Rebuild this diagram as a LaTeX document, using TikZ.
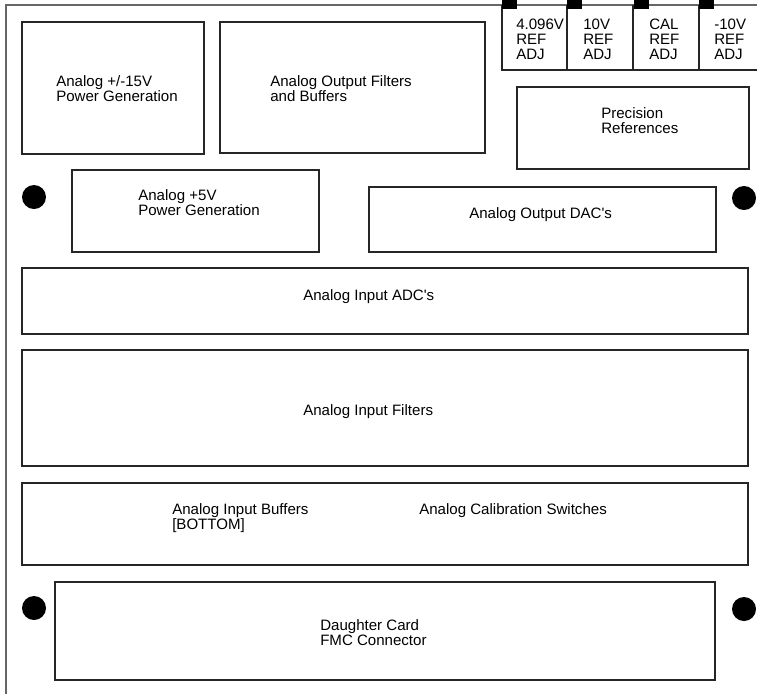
\documentclass[tikz,border=0pt]{standalone}
\usepackage{fontspec}
\setmainfont{Liberation Sans}
\usepackage{tikz}

\begin{document}
\begin{tikzpicture}[x=0.75pt, y=-0.75pt,
		board/.style={draw=black!60, line width=0.8pt},
		box/.style={draw=black!85, line width=1.1pt},
		lbl/.style={anchor=base west, inner sep=0pt, align=left, font=\fontsize{11.3pt}{11pt}\selectfont}]
			\useasboundingbox (0, 0) rectangle (757, 694);
			% board edge
			\draw [board] (6, 694) -- (6, 5) -- (757, 5);
			% reference adjust pots
			\draw [box] (502, 5) -- (502, 70) -- (757, 70);
			\foreach \x in {567, 633, 699} \draw [box] (\x, 5) -- (\x, 70);
			\foreach \x in {502, 567, 634, 699} \fill (\x, 0) rectangle +(15, 9);
			\node [lbl] (adj4) at (516, 59) {4.096V\\REF\\ADJ};
			\node [lbl] (adj10) at (583, 59) {10V\\REF\\ADJ};
			\node [lbl] (adjcal) at (649, 59) {CAL\\REF\\ADJ};
			\node [lbl] (adjm10) at (714, 59) {-10V\\REF\\ADJ};
			% blocks
			\draw [box] (22, 22) rectangle (204, 154);
			\node [lbl] (pwr15) at (56, 101) {Analog +/-15V\\Power Generation};
			\draw [box] (220, 22) rectangle (485, 153);
			\node [lbl] (outflt) at (270, 101) {Analog Output Filters\\and Buffers};
			\draw [box] (517, 87) rectangle (749, 169);
			\node [lbl] (precref) at (601, 133) {Precision\\References};
			\draw [box] (72, 170) rectangle (319, 252);
			\node [lbl] (pwr5) at (138, 215) {Analog +5V\\Power Generation};
			\draw [box] (369, 187) rectangle (716, 252);
			\node [lbl] (outdac) at (469, 218) {Analog Output DAC\textquotesingle s};
			\draw [box] (22, 268) rectangle (748, 334);
			\node [lbl] (inadc) at (303, 300) {Analog Input ADC\textquotesingle s};
			\draw [box] (22, 350) rectangle (748, 466);
			\node [lbl] (inflt) at (303, 415) {Analog Input Filters};
			\draw [box] (22, 483) rectangle (748, 565);
			\node [lbl] (inbuf) at (172, 529) {Analog Input Buffers\\{[BOTTOM]}};
			\node [lbl] (calsw) at (419, 514) {Analog Calibration Switches};
			\draw [box] (55, 582) rectangle (715, 680);
			\node [lbl] (fmc) at (320, 645) {Daughter Card\\FMC Connector};
			% mounting holes
			\foreach \p in {(34, 197), (744, 198), (34, 608), (744, 609)} \fill \p circle [radius=9pt];
		\end{tikzpicture}
\end{document}
